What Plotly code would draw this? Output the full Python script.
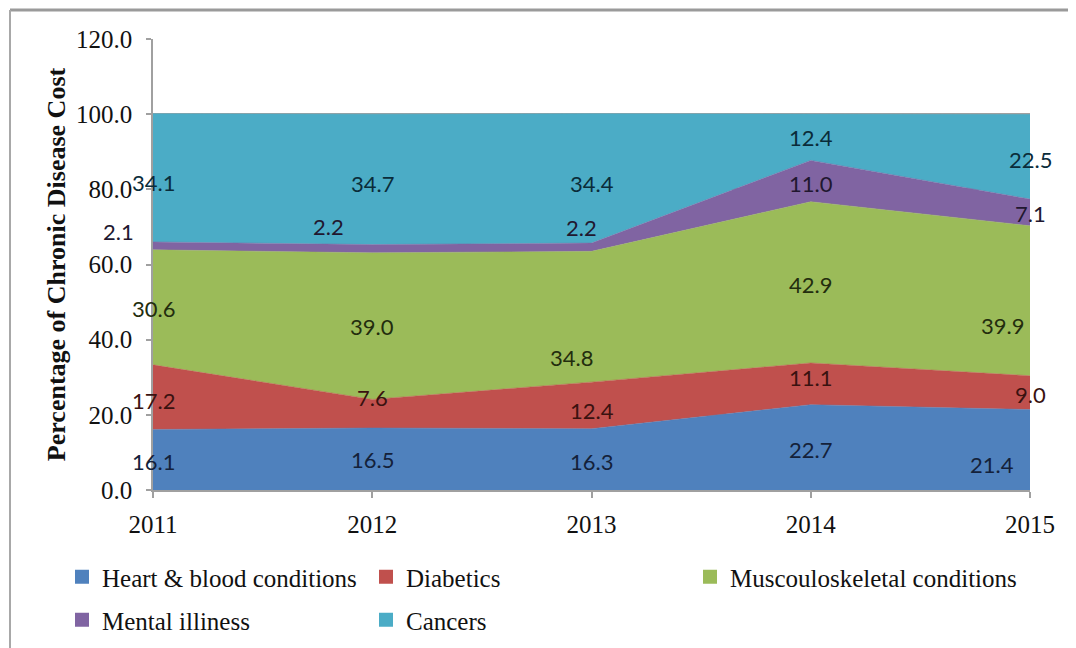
import numpy as np
import plotly.graph_objects as go

years = [2011, 2012, 2013, 2014, 2015]
year_labels = ["2011", "2012", "2013", "2014", "2015"]

series_names = [
    "Heart & blood conditions",
    "Diabetics",
    "Muscouloskeletal conditions",
    "Mental illiness",
    "Cancers",
]
heart = [16.1, 16.5, 16.3, 22.7, 21.4]
diabetics = [17.2, 7.6, 12.4, 11.1, 9.0]
musculo = [30.6, 39.0, 34.8, 42.9, 39.9]
mental = [2.1, 2.2, 2.2, 11.0, 7.1]
cancers = [34.1, 34.7, 34.4, 12.4, 22.5]
series_values = [heart, diabetics, musculo, mental, cancers]

y_ticks = [0, 20, 40, 60, 80, 100, 120]

# ---- styling ----
colors = ["#4F81BD", "#C0504D", "#9BBB59", "#8064A2", "#4BACC6"]
label_colors = ["#14213A", "#3A1210", "#232D0E", "#21172F", "#0A2C3A"]
# per-label pixel nudges (xshift, yshift) per series, per year
label_xshift = [
    [0, 0, 0, 0, -38],
    [0, 0, 0, 0, 0],
    [0, 0, -20, 0, -28],
    [-35, -44, -10, 0, 0],
    [0, 0, 0, 0, 0],
]
label_yshift = [
    [-2, -1, -2, -2, -15],
    [-3, 16, -5, 6, -2],
    [-1, 0, -41, -2, -25],
    [14, 22, 20, -2, -1],
    [-5, -4, -5, 0, -3],
]

SERIF = "Liberation Serif"
LABEL_FONT = "Lato"

# page body has an 8px margin; work in screen pixels and convert
OFF = 8
W, H = 1076 - OFF, 648 - OFF
L = 153 - OFF
T = 39 - OFF
R = W - (1030 - OFF)
B = H - (490 - OFF)
pw, ph = W - L - R, H - T - B


def px_to_paper_x(px):
    return (px - OFF - L) / pw


def px_to_paper_y(py):
    return (H - B - (py - OFF)) / ph


fig = go.Figure()

for i, (name, vals) in enumerate(zip(series_names, series_values)):
    fig.add_trace(go.Scatter(
        x=years, y=vals, name=name, mode="lines",
        stackgroup="one", line=dict(width=0.5, color=colors[i]),
        fillcolor=colors[i], showlegend=False, hoverinfo="x+y+name",
    ))

legend_pos = [(62, 577), (366, 577), (690, 577), (62, 620), (366, 620)]
legend_keys = ["legend", "legend2", "legend3", "legend4", "legend5"]
for i, name in enumerate(series_names):
    fig.add_trace(go.Scatter(
        x=[None], y=[None], mode="markers", name=name,
        marker=dict(symbol="square", size=14, color=colors[i]),
        legend=legend_keys[i], showlegend=True, hoverinfo="skip",
    ))

legend_layout = {}
for key, (lx, ly) in zip(legend_keys, legend_pos):
    legend_layout[key] = dict(
        x=px_to_paper_x(lx), y=px_to_paper_y(ly), xanchor="left", yanchor="middle",
        orientation="v", bgcolor="rgba(0,0,0,0)", borderwidth=0,
        font=dict(family=SERIF, size=25, color="#111111"),
    )

# data labels centred in each band
arr = np.array(series_values)
cum = np.cumsum(arr, axis=0)
mid = cum - arr / 2.0
annotations = []
for i in range(arr.shape[0]):
    for j, yr in enumerate(years):
        annotations.append(dict(
            x=yr, y=mid[i, j], xref="x", yref="y",
            text=f"{arr[i, j]:.1f}", showarrow=False,
            xanchor="center", yanchor="middle",
            xshift=label_xshift[i][j], yshift=label_yshift[i][j],
            font=dict(family=LABEL_FONT, size=22, color=label_colors[i]),
        ))

# outer frame
shapes = [
    dict(type="line", xref="paper", yref="paper",
         x0=px_to_paper_x(10), x1=px_to_paper_x(1073),
         y0=px_to_paper_y(10), y1=px_to_paper_y(10),
         line=dict(color="#9A9A9A", width=3)),
    dict(type="line", xref="paper", yref="paper",
         x0=px_to_paper_x(10), x1=px_to_paper_x(10),
         y0=px_to_paper_y(10), y1=px_to_paper_y(660),
         line=dict(color="#A8A8A8", width=2)),
    dict(type="line", xref="paper", yref="paper",
         x0=px_to_paper_x(1072), x1=px_to_paper_x(1072),
         y0=px_to_paper_y(10), y1=px_to_paper_y(660),
         line=dict(color="#E4E4E4", width=1)),
]

fig.update_layout(
    width=W, height=H,
    margin=dict(l=L, r=R, t=T, b=B, autoexpand=False),
    paper_bgcolor="white", plot_bgcolor="white",
    annotations=annotations, shapes=shapes,
    hovermode="closest",
    **legend_layout,
)

fig.update_xaxes(
    range=[2011, 2015], tickvals=years, ticktext=year_labels,
    showgrid=False, zeroline=False,
    showline=True, linecolor="#A0A0A0", linewidth=1.5,
    ticks="outside", ticklen=6, tickcolor="#A0A0A0", tickwidth=1.5,
    ticklabelstandoff=5,
    tickfont=dict(family=SERIF, size=25, color="#111111"),
)
fig.update_yaxes(
    range=[0, 120], tickvals=y_ticks, tickformat=".1f",
    showgrid=True, gridcolor="#A0A0A0", gridwidth=1.5, zeroline=False,
    showline=True, linecolor="#A0A0A0", linewidth=1.5,
    ticks="outside", ticklen=5, tickcolor="#A0A0A0", tickwidth=1.5,
    ticklabelstandoff=9,
    tickfont=dict(family=SERIF, size=25, color="#111111"),
    title=dict(text="<b>Percentage of Chronic Disease Cost</b>", standoff=3,
               font=dict(family=SERIF, size=26, color="#111111")),
)

fig.write_html("out.html")
